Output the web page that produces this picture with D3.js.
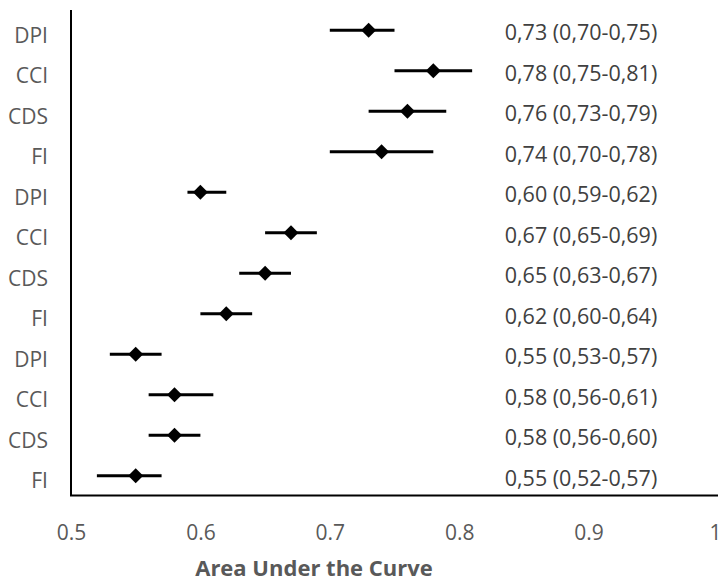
<!DOCTYPE html>
<html>
<head>
<meta charset="utf-8">
<script src="https://cdn.jsdelivr.net/npm/d3@7/dist/d3.min.js"></script>
<style>
  html, body { margin: 0; padding: 0; background: #fff; }
  svg { display: block; font-family: "Open Sans", sans-serif; }
</style>
</head>
<body>
<svg id="chart" width="722" height="584"></svg>
<script>
// Data
const labels = ["DPI", "CCI", "CDS", "FI", "DPI", "CCI", "CDS", "FI", "DPI", "CCI", "CDS", "FI"];
const auc    = [0.73, 0.78, 0.76, 0.74, 0.60, 0.67, 0.65, 0.62, 0.55, 0.58, 0.58, 0.55];
const lower  = [0.70, 0.75, 0.73, 0.70, 0.59, 0.65, 0.63, 0.60, 0.53, 0.56, 0.56, 0.52];
const upper  = [0.75, 0.81, 0.79, 0.78, 0.62, 0.69, 0.67, 0.64, 0.57, 0.61, 0.60, 0.57];
const xTicks = [0.5, 0.6, 0.7, 0.8, 0.9, 1.0];
const xTitle = "Area Under the Curve";

const rows = labels.map((l, i) => ({ i, label: l, auc: auc[i], lo: lower[i], hi: upper[i] }));

const svg = d3.select("#chart");
const mLeft = 71, mRight = 718, mTop = 10, mBottom = 496;
const grey = "#595959";

const x = d3.scaleLinear().domain([0.5, 1.0]).range([mLeft, mRight]);
const y = d3.scalePoint().domain(rows.map(d => d.i)).range([mTop, mBottom]).padding(0.5);

const f2 = d3.format(".2f");
const comma = v => f2(v).replace(".", ",");

// Y category labels
svg.append("g").selectAll("text").data(rows).join("text")
  .attr("x", 48).attr("y", d => y(d.i) + 5)
  .attr("dy", "0.36em")
  .attr("text-anchor", "end")
  .attr("fill", grey).attr("font-size", 21)
  .text(d => d.label);

// X axis tick labels
const xAxis = d3.axisBottom(x).tickValues(xTicks)
  .tickSize(0).tickPadding(0)
  .tickFormat(d => d === 1 ? "1" : d3.format(".1f")(d));
const gx = svg.append("g").attr("transform", `translate(0,${mBottom})`).call(xAxis);
gx.select(".domain").remove();
gx.selectAll("text")
  .attr("y", 44).attr("dy", 0)
  .attr("fill", grey).attr("font-size", 21)
  .attr("font-family", "Open Sans, sans-serif")
  .attr("text-anchor", d => d === 1 ? "end" : "middle")
  .attr("x", d => d === 1 ? 3 : 0);

// Axis title
svg.append("text")
  .attr("x", 314).attr("y", 576)
  .attr("text-anchor", "middle")
  .attr("font-weight", "bold").attr("font-size", 22)
  .attr("fill", grey)
  .text(xTitle);

// Axis lines
svg.append("line").attr("x1", mLeft).attr("x2", mLeft).attr("y1", mTop).attr("y2", mBottom)
  .attr("stroke", "#000").attr("stroke-width", 2);
svg.append("line").attr("x1", mLeft - 1).attr("x2", mRight).attr("y1", mBottom - 0.5).attr("y2", mBottom - 0.5)
  .attr("stroke", "#000").attr("stroke-width", 2);

// Error bars
svg.append("g").selectAll("line").data(rows).join("line")
  .attr("x1", d => x(d.lo)).attr("x2", d => x(d.hi))
  .attr("y1", d => y(d.i)).attr("y2", d => y(d.i))
  .attr("stroke", "#000").attr("stroke-width", 3);

// Diamond markers
const diamond = d3.symbol().type(d3.symbolSquare).size(112);
svg.append("g").selectAll("path").data(rows).join("path")
  .attr("d", diamond)
  .attr("transform", d => `translate(${x(d.auc)},${y(d.i)}) rotate(45)`)
  .attr("fill", "#000");

// Value labels
svg.append("g").selectAll("text").data(rows).join("text")
  .attr("x", 581).attr("y", d => y(d.i) + 2.5)
  .attr("dy", "0.36em")
  .attr("text-anchor", "middle")
  .attr("fill", "#404040").attr("font-size", 21.5)
  .text(d => `${comma(d.auc)} (${comma(d.lo)}-${comma(d.hi)})`);
</script>
</body>
</html>
